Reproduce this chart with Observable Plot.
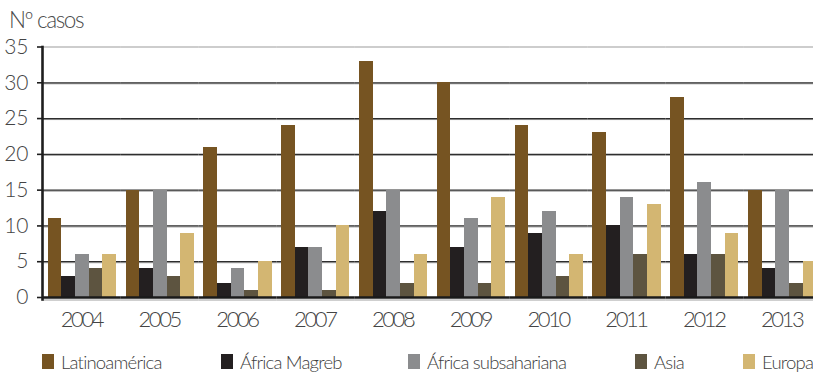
<!DOCTYPE html>
<html><head><meta charset="utf-8">
<script src="https://cdn.jsdelivr.net/npm/d3@7"></script>
<script src="https://cdn.jsdelivr.net/npm/@observablehq/plot@0.6"></script>
<style>
html,body{margin:0;padding:0;background:#fff;}
body{width:813px;height:378px;overflow:hidden;position:relative;font-family:"Lato",sans-serif;font-weight:300;}
#chart{position:absolute;left:0;top:0;}
#chart svg{max-width:none !important;}
#chart g[aria-label="fx-axis tick label"] text{letter-spacing:-2.4px;}
#title{position:absolute;left:9px;top:9px;font-size:22.5px;line-height:22px;color:#4a4a4a;white-space:nowrap;letter-spacing:-1.4px;}
#legend{position:absolute;left:0;top:353px;width:813px;height:24px;font-size:18.5px;line-height:19px;color:#404040;white-space:nowrap;letter-spacing:-0.8px;}
#legend .item{position:absolute;top:0;}
#legend .sw{display:inline-block;width:12px;height:15px;margin-right:7px;}
</style>
</head><body>
<div id="chart"></div>
<div id="title">Nº casos</div>
<div id="legend"></div>
<script>
const years = ["2004","2005","2006","2007","2008","2009","2010","2011","2012","2013"];
const series = ["Latinoamérica","África Magreb","África subsahariana","Asia","Europa"];
const latinoamerica = [11,15,21,24,33,30,24,23,28,15];
const africaMagreb = [3,4,2,7,12,7,9,10,6,4];
const africaSubsahariana = [6,15,4,7,15,11,12,14,16,15];
const asia = [4,3,1,1,2,2,3,6,6,2];
const europa = [6,9,5,10,6,14,6,13,9,5];
const colors = ["#765422","#231f20","#8b8c8e","#5d5440","#d3b672"];
const yTicks = [0,5,10,15,20,25,30,35];

// legend layout (pixel offsets of each legend entry)
const legendLeft = [42,221,408,635,743];

const valuesBySeries = [latinoamerica, africaMagreb, africaSubsahariana, asia, europa];
const data = years.flatMap((yr, i) => series.map((s, j) => ({year: yr, series: s, value: valuesBySeries[j][i]})));

const chart = Plot.plot({
  width: 821,
  height: 345,
  marginTop: 46.5,
  marginBottom: 48,
  marginLeft: 43,
  marginRight: 0,
  style: {fontFamily: "Lato, sans-serif", fontWeight: 300, background: "transparent", overflow: "visible"},
  fx: {domain: years, paddingInner: 0, paddingOuter: 0, round: false, label: null},
  x: {domain: series, paddingInner: 0, paddingOuter: 0.36, round: false, axis: null},
  y: {domain: [0, 35], label: null},
  color: {domain: series, range: colors},
  marks: [
    Plot.ruleY(yTicks.filter(t => t > 0 && t < 35), {stroke: "#9a9a9a", strokeWidth: 1, dy: 1}),
    Plot.ruleY(yTicks.filter(t => t > 0 && t < 35), {stroke: "#2e2e2e", strokeWidth: 1.2}),
    Plot.ruleY([35], {stroke: "#9c9c9c", strokeWidth: 1.2}),
    Plot.barY(data, {fx: "year", x: "series", y: "value", fill: "series", shapeRendering: "crispEdges"}),
    Plot.ruleY([0], {stroke: "#a0a0a0", strokeWidth: 1, dy: 2.5}),
    Plot.ruleY([0], {stroke: "#1a1a1a", strokeWidth: 2.6}),
    Plot.frame({anchor: "left", facetAnchor: "left", stroke: "#1e1e1e", strokeWidth: 2.6, dx: -1, insetBottom: -2}),
    Plot.axisY({ticks: yTicks, tickSize: 6, tickPadding: 9, fontSize: 21, stroke: "#1e1e1e", strokeWidth: 1.6, fill: "#444", label: null, tickFormat: d => String(d)}),
    Plot.axisFx({anchor: "bottom", tickSize: 0, tickPadding: 14, fontSize: 22, fill: "#444", label: null, dx: -1})
  ]
});
document.getElementById("chart").appendChild(chart);

const legend = document.getElementById("legend");
series.forEach((s, j) => {
  const item = document.createElement("span");
  item.className = "item";
  item.style.left = legendLeft[j] + "px";
  const sw = document.createElement("span");
  sw.className = "sw";
  sw.style.background = colors[j];
  item.appendChild(sw);
  item.appendChild(document.createTextNode(s));
  legend.appendChild(item);
});
</script>
</body></html>
